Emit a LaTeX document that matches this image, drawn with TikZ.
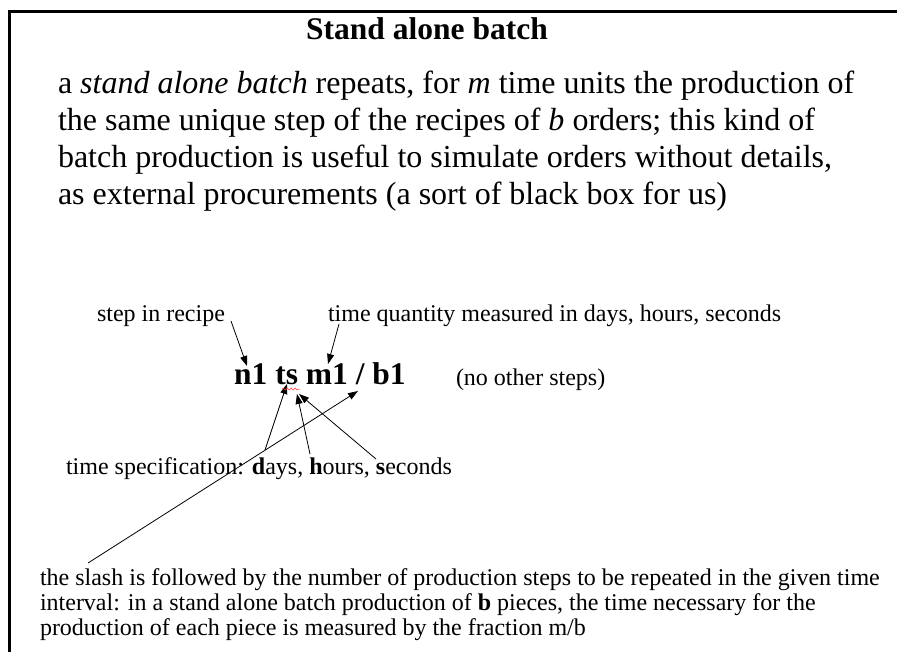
\documentclass[tikz,border=0pt]{standalone}
\usepackage{fontspec}
\setmainfont{Liberation Serif}
\usetikzlibrary{arrows.meta,decorations.pathmorphing}
\tikzset{
  txt/.style={anchor=base west,inner sep=0pt,outer sep=0pt,font=\fontsize{24}{28}\selectfont},
  para/.style={anchor=base west,inner sep=0pt,outer sep=0pt,font=\fontsize{32}{37}\selectfont},
  arr/.style={line width=0.8pt,-{Triangle[length=10pt,width=7pt]}},
  frame/.style={line width=3pt}
}
\begin{document}
\begin{tikzpicture}[x=1pt,y=-1pt]
\useasboundingbox (0,0) rectangle (897,652);
\draw[frame] (897,12) -- (9,12) -- (9,652);
\node[anchor=base,inner sep=0pt,font=\fontsize{31.5}{36}\selectfont\bfseries] (title) at (427,40) {Stand alone batch};
\node[para] (p1) at (58,94) {a \textit{stand alone batch} repeats, for \textit{m} time units the production of};
\node[para] (p2) at (58,131) {the same unique step of the recipes of \textit{b} orders; this kind of};
\node[para] (p3) at (58,168) {batch production is useful to simulate orders without details,};
\node[para] (p4) at (58,205) {as external procurements (a sort of black box for us)};

\node[txt] (step) at (97,322) {step in recipe};
\node[txt] (tq) at (328,322) {time quantity measured in days, hours, seconds};
\node[anchor=base west,inner sep=0pt,font=\fontsize{31.5}{36}\selectfont\bfseries] (code) at (234,384) {n1 ts m1 / b1};
\node[txt] (noother) at (456,385) {(no other steps)};
\node[txt] (tspec) at (66,474) {time specification: \textbf{d}ays, \textbf{h}ours, \textbf{s}econds};
\node[txt] (s1) at (40,585) {the slash is followed by the number of production steps to be repeated in the given time};
\node[txt] (s2) at (40,610) {interval: in a stand alone batch production of \textbf{b} pieces, the time necessary for the};
\node[txt] (s3) at (40,635) {production of each piece is measured by the fraction m/b};

\coordinate (stepS) at (231,321);
\coordinate (nTop) at (247,366);
\coordinate (tqS) at (339,324);
\coordinate (mTop) at (328,364);
\coordinate (tsS) at (265,450);
\coordinate (tBot) at (287,384);
\coordinate (hS) at (310,454);
\coordinate (sBotA) at (297,394);
\coordinate (secS) at (376,459);
\coordinate (sBotB) at (299,394);
\coordinate (slashS) at (88,563);
\coordinate (slashT) at (358,391);

\draw[arr] (stepS) -- (nTop);
\draw[arr] (tqS) -- (mTop);
\draw[arr] (tsS) -- (tBot);
\draw[arr] (hS) -- (sBotA);
\draw[arr] (secS) -- (sBotB);
\draw[arr] (slashS) -- (slashT);
\draw[red!80,line width=0.5pt,decorate,decoration={snake,amplitude=1pt,segment length=4pt}] (282,389) -- (300,389);
\end{tikzpicture}
\end{document}
